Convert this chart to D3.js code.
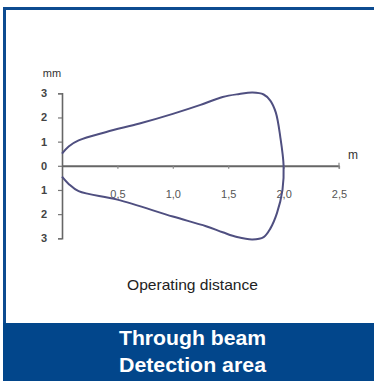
<!DOCTYPE html>
<html><head><meta charset="utf-8">
<script src="https://cdn.jsdelivr.net/npm/d3@7"></script>
<style>html,body{margin:0;padding:0;background:#fff;}svg{display:block;}</style>
</head><body>
<script>
// Data
const xTicks = [0.5, 1.0, 1.5, 2.0, 2.5];
const xTickLabels = ["0,5", "1,0", "1,5", "2,0", "2,5"];
const yTicks = [3, 2, 1, 0, -1, -2, -3];
const yTickLabels = ["3", "2", "1", "0", "1", "2", "3"];
const upperDistance = [0, 0.06, 0.15, 0.4, 0.7, 1.0, 1.25, 1.45, 1.6, 1.72, 1.82, 1.88, 1.93, 1.97, 2.0];
const upperWidth    = [0.5, 0.8, 1.05, 1.4, 1.75, 2.15, 2.52, 2.85, 2.97, 3.03, 2.95, 2.7, 2.2, 1.2, 0];
const lowerDistance = [1.99, 1.94, 1.88, 1.82, 1.72, 1.58, 1.45, 1.3, 1.0, 0.5, 0.15, 0.06, 0];
const lowerWidth    = [-1.0, -1.96, -2.6, -2.95, -3.05, -2.95, -2.75, -2.5, -2.1, -1.4, -1.05, -0.75, -0.45];
const xUnit = "m", yUnit = "mm", xTitle = "Operating distance";
const bannerLines = ["Through beam", "Detection area"];

const W = 374, H = 381;
const svg = d3.select("body").append("svg").attr("width", W).attr("height", H);
const blue = "#02468b";

// frame
svg.append("rect").attr("x", 3).attr("y", 7).attr("width", W - 3).attr("height", 3).attr("fill", "#0d4b90");
svg.append("rect").attr("x", 3).attr("y", 7).attr("width", 3).attr("height", 320).attr("fill", "#0d4b90");
svg.append("rect").attr("x", 3).attr("y", 323).attr("width", W - 3).attr("height", H - 323).attr("fill", blue);

const x = d3.scaleLinear().domain([0, 2.5]).range([62, 339]);
const y = d3.scaleLinear().domain([-3, 3]).range([238.3, 93.3]);

const axisColor = "#666";
// x axis
const gx = svg.append("g").attr("transform", `translate(0,${y(0)})`)
  .call(d3.axisBottom(x).tickValues(xTicks).tickSizeInner(3).tickSizeOuter(0).tickPadding(21)
    .tickFormat((d, i) => xTickLabels[i]));
gx.select(".domain").attr("stroke", axisColor).attr("stroke-width", 2);
gx.selectAll(".tick line").attr("stroke", "#888").attr("stroke-width", 1.2);
gx.selectAll(".tick text").attr("fill", "#555").attr("font-size", 11).attr("font-family", "Liberation Sans, Arial, sans-serif");
// end cap at 2.5
gx.append("line").attr("x1", x(2.5)).attr("x2", x(2.5)).attr("y1", -3).attr("y2", 3).attr("stroke", "#888").attr("stroke-width", 1.2);

// y axis
const gy = svg.append("g").attr("transform", `translate(${x(0)},0)`)
  .call(d3.axisLeft(y).tickValues(yTicks).tickSize(4).tickPadding(11)
    .tickFormat((d, i) => yTickLabels[i]));
gy.select(".domain").attr("stroke", axisColor).attr("stroke-width", 1.6);
gy.selectAll(".tick line").attr("stroke", "#777").attr("stroke-width", 1.2);
gy.selectAll(".tick text").attr("fill", "#444").attr("font-size", 11).attr("font-weight", "bold").attr("font-family", "Liberation Sans, Arial, sans-serif");

// units
svg.append("text").attr("x", 52).attr("y", 77).attr("text-anchor", "middle").attr("font-size", 11)
  .attr("font-family", "Liberation Sans, Arial, sans-serif").attr("fill", "#333").text(yUnit);
svg.append("text").attr("x", 353).attr("y", 159).attr("text-anchor", "middle").attr("font-size", 12)
  .attr("font-family", "Liberation Sans, Arial, sans-serif").attr("fill", "#333").text(xUnit);

// curve
const pts = upperDistance.map((d, i) => [d, upperWidth[i]])
  .concat(lowerDistance.map((d, i) => [d, lowerWidth[i]]));
const line = d3.line().x(d => x(d[0])).y(d => y(d[1])).curve(d3.curveCatmullRom.alpha(0.5));
svg.append("path").attr("d", line(pts)).attr("fill", "none").attr("stroke", "#4f4f80").attr("stroke-width", 2);

// x title
svg.append("text").attr("x", 192.5).attr("y", 290).attr("text-anchor", "middle").attr("font-size", 15)
  .attr("font-family", "Liberation Sans, Arial, sans-serif").attr("fill", "#222")
  .attr("textLength", 131).attr("lengthAdjust", "spacingAndGlyphs").text(xTitle);

// banner
bannerLines.forEach((t, i) => {
  svg.append("text").attr("x", 192.5).attr("y", 345 + i * 27).attr("text-anchor", "middle")
    .attr("font-size", 20).attr("font-weight", "bold").attr("font-family", "Liberation Sans, Arial, sans-serif")
    .attr("fill", "#fff").attr("textLength", 147).attr("lengthAdjust", "spacingAndGlyphs").text(t);
});
</script>
</body></html>
